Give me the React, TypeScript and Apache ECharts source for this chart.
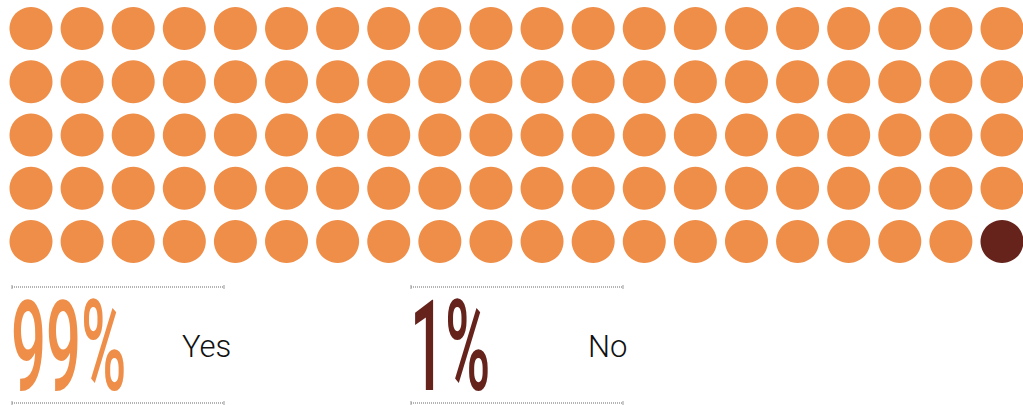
import React, { useEffect, useRef } from "react";
import * as echarts from "echarts";

const answers = ["Yes", "No"];
const percents = [99, 1];
const colors = ["#EE8E48", "#66231C"];
const columns = 20;
const rows = 5;

export default function App() {
  const ref = useRef<HTMLDivElement>(null);
  useEffect(() => {
    if (!ref.current) return;
    const chart = echarts.init(ref.current, undefined, { renderer: "svg" });
    const seriesData: any[] = [[], []];
    let idx = 0;
    percents.forEach((p, k) => {
      for (let i = 0; i < p; i++) {
        const r = Math.floor(idx / columns);
        const c = idx % columns;
        seriesData[k].push([c, r]);
        idx++;
      }
    });
    const big = "'Roboto', sans-serif";
    const blocks: any[] = [];
    const blockX = [12, 411];
    const labelX = [182, 588];
    answers.forEach((a, k) => {
      const x0 = blockX[k];
      const x1 = x0 + 212;
      [287, 403].forEach((yy) => {
        blocks.push({
          type: "line",
          shape: { x1: x0, y1: yy, x2: x1, y2: yy },
          style: { stroke: "#9a9a9a", lineWidth: 1.5, lineDash: [1, 1] },
        });
        blocks.push({
          type: "line",
          shape: { x1: x0, y1: yy - 2, x2: x0, y2: yy + 2 },
          style: { stroke: "#9a9a9a", lineWidth: 1 },
        });
        blocks.push({
          type: "line",
          shape: { x1: x1, y1: yy - 2, x2: x1, y2: yy + 2 },
          style: { stroke: "#9a9a9a", lineWidth: 1 },
        });
      });
      blocks.push({
        type: "text",
        x: x0 - 1,
        y: 346,
        scaleX: 0.485,
        style: {
          text: percents[k] + "%",
          fill: colors[k],
          font: `500 127px ${big}`,
          textAlign: "left",
          textVerticalAlign: "middle",
        },
      });
      blocks.push({
        type: "text",
        x: labelX[k],
        y: 346,
        style: {
          text: a,
          fill: "#111",
          font: `300 31px ${big}`,
          textAlign: "left",
          textVerticalAlign: "middle",
        },
      });
    });
    chart.setOption({
      animation: false,
      grid: { left: 31, right: 21, top: 28.5, bottom: 163.5 },
      xAxis: { type: "value", min: 0, max: columns - 1, show: false },
      yAxis: { type: "value", min: 0, max: rows - 1, inverse: true, show: false },
      series: percents.map((p, k) => ({
        type: "scatter",
        name: answers[k],
        symbol: "circle",
        symbolSize: 43,
        itemStyle: { color: colors[k], opacity: 1 },
        data: seriesData[k],
        silent: true,
      })),
      graphic: blocks,
    });
    return () => chart.dispose();
  }, []);
  return (
    <div
      ref={ref}
      style={{ position: "fixed", left: 0, top: 0, width: 1023, height: 405, background: "#fff" }}
    />
  );
}
